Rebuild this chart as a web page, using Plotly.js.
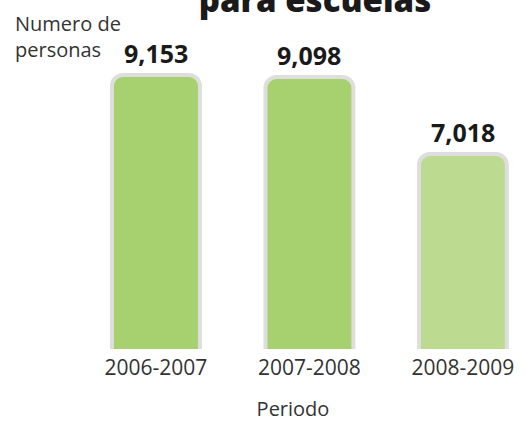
<!DOCTYPE html>
<html><head><meta charset="utf-8">
<script src="https://cdn.plot.ly/plotly-3.0.1.min.js"></script>
<style>html,body{margin:0;padding:0;background:#fff}</style>
</head><body><div id="chart" style="width:526px;height:422px"></div>
<script>
const periods = ['2006-2007', '2007-2008', '2008-2009'];
const personas = [9153, 9098, 7018];
const valueLabels = ['9,153', '9,098', '7,018'];
const barColors = ['#a7d16e', '#a7d16e', '#bcdb91'];

const baseFont = 'Open Sans, Noto Sans, sans-serif';
const heavyFont = 'Open Sans, sans-serif';

const trace = {
  type: 'bar', x: periods, y: personas, width: 0.573,
  marker: {color: barColors, line: {color: '#dedede', width: 4}},
  hoverinfo: 'skip'
};

const annotations = periods.map((p, i) => ({
  x: p, y: personas[i], xref: 'x', yref: 'y', text: valueLabels[i],
  showarrow: false, yanchor: 'bottom', yshift: 3,
  font: {family: heavyFont, size: 25, color: '#1a1a1a', weight: 'bold'}
}));
annotations.push({
  xref: 'paper', yref: 'paper', x: -0.1, y: 1.036, xanchor: 'left', yanchor: 'top',
  align: 'left', showarrow: false, text: 'Numero de<br>personas',
  font: {family: baseFont, size: 20, color: '#333'}
});

const layout = {
  width: 526, height: 422,
  margin: {l: 60, r: 0, t: 20, b: 73},
  paper_bgcolor: '#fff', plot_bgcolor: '#fff',
  barcornerradius: 11,
  showlegend: false,
  title: {text: 'para escuelas', x: 315/526, xanchor: 'center', xref: 'container',
          y: 1 - 12/422, yref: 'container', yanchor: 'bottom',
          font: {family: 'Open Sans, sans-serif', size: 33, color: '#1a1a1a', weight: 800}},
  xaxis: {type: 'category', range: [-0.625, 2.411], showgrid: false, zeroline: false,
          showline: false, ticks: '', ticklabelstandoff: 4,
          tickfont: {family: baseFont, size: 21, color: '#333'},
          title: {text: 'Periodo', font: {family: baseFont, size: 20, color: '#333'}, standoff: 21}},
  yaxis: {range: [1748, 10639], visible: false, showgrid: false, zeroline: false},
  annotations: annotations
};

Plotly.newPlot('chart', [trace], layout, {staticPlot: true, displayModeBar: false});
</script></body></html>
